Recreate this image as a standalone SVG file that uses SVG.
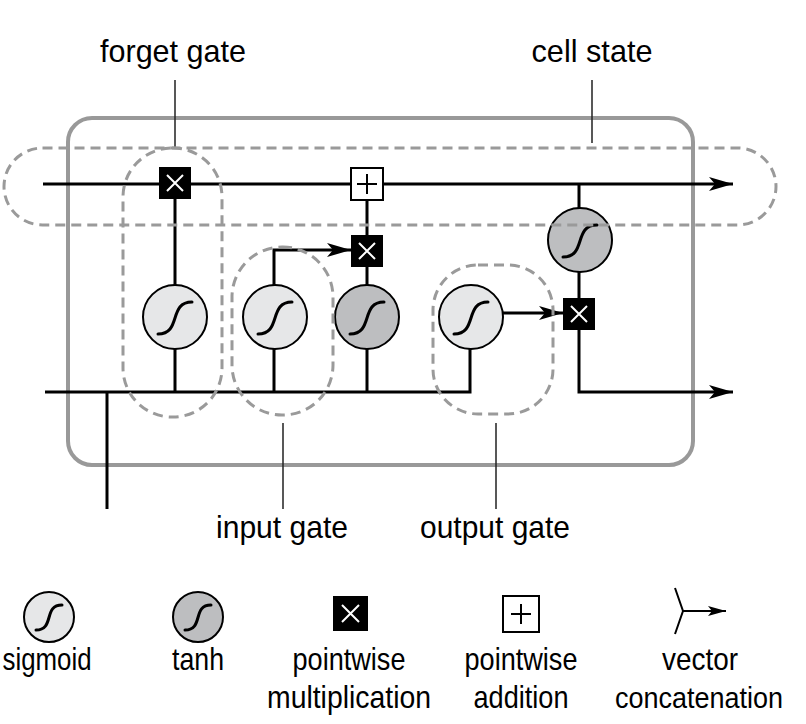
<svg xmlns="http://www.w3.org/2000/svg" width="806" height="724" viewBox="0 0 806 724">
<defs>
<style>
.ln{fill:none;stroke:#000;stroke-width:3}
.lead{fill:none;stroke:#222;stroke-width:1.5}
.dash{fill:none;stroke:#9a9a9a;stroke-width:3;stroke-dasharray:10 6}
.frame{fill:none;stroke:#999;stroke-width:4}
.sig{fill:#e6e7e8;stroke:#000;stroke-width:2}
.tanh{fill:#bdbec0;stroke:#000;stroke-width:2}
.curve{fill:none;stroke:#000;stroke-width:3;stroke-linecap:round}
.mul{fill:#000}
.mulx{stroke:#fff;stroke-width:2}
.add{fill:#fff;stroke:#000;stroke-width:2}
.addp{stroke:#000;stroke-width:2}
.t{font-family:"Liberation Sans",Arial,sans-serif;font-size:32px;fill:#000;text-anchor:middle}
</style>
<marker id="ah" viewBox="0 0 24 14" refX="24" refY="7" markerWidth="24" markerHeight="14" markerUnits="userSpaceOnUse" orient="auto">
<path d="M0,0 L24,7 L0,14 L6,7 z" fill="#000"/>
</marker>
<marker id="ahs" viewBox="0 0 18 10" refX="18" refY="5" markerWidth="18" markerHeight="10" markerUnits="userSpaceOnUse" orient="auto">
<path d="M0,0 L18,5 L0,10 L4,5 z" fill="#000"/>
</marker>
<g id="sigsym"><circle r="32" class="sig"/><path class="curve" d="M-17,17 C7,17 -7,-15 17,-15"/></g>
<g id="tanhsym"><circle r="32" class="tanh"/><path class="curve" d="M-17,17 C7,17 -7,-15 17,-15"/></g>
<g id="mulsym"><rect x="-16" y="-16" width="32" height="32" class="mul"/><path class="mulx" d="M-8,-8 L8,8 M8,-8 L-8,8"/></g>
<g id="addsym"><rect x="-16" y="-16" width="32" height="32" class="add"/><path class="addp" d="M-10,0 L10,0 M0,-10 L0,10"/></g>
</defs>
<rect width="806" height="724" fill="#fff"/>

<rect id="cell-frame" x="68" y="118" width="625" height="347" rx="24" class="frame"/>

<g id="connectors">
<path class="ln" d="M43,184 L733,184" marker-end="url(#ah)"/>
<path class="ln" d="M45,392 L470,392 L470,349"/>
<path class="ln" d="M107,392 L107,509"/>
<path class="ln" d="M175,199 L175,285 M175,349 L175,392"/>
<path class="ln" d="M274,392 L274,349 M274,285 L274,250 L351,250" marker-end="url(#ah)"/>
<path class="ln" d="M367,392 L367,349 M367,285 L367,267 M367,235 L367,200"/>
<path class="ln" d="M503,313 L563,313" marker-end="url(#ah)"/>
<path class="ln" d="M579,184 L579,209 M579,272 L579,298"/>
<path class="ln" d="M579,330 L579,392 L733,392" marker-end="url(#ah)"/>
<path class="lead" d="M175,80 L175,147 M592,80 L592,143 M283,423 L283,509 M496,423 L496,509"/>
</g>

<g id="forget-mul"><use href="#mulsym" x="175" y="183"/></g>
<g id="cell-add"><use href="#addsym" x="367" y="184"/></g>
<g id="input-mul"><use href="#mulsym" x="367" y="251"/></g>
<g id="output-mul"><use href="#mulsym" x="579" y="314"/></g>
<g id="forget-sigmoid"><use href="#sigsym" x="175" y="317"/></g>
<g id="input-sigmoid"><use href="#sigsym" x="275" y="317"/></g>
<g id="input-tanh"><use href="#tanhsym" x="367" y="317"/></g>
<g id="output-sigmoid"><use href="#sigsym" x="471" y="317"/></g>
<g id="cell-tanh"><use href="#tanhsym" x="580" y="240"/></g>

<g id="regions">
<rect x="4" y="148" width="772" height="77" rx="38.5" class="dash"/>
<rect x="123" y="148" width="99" height="269" rx="49" class="dash"/>
<rect x="232" y="247" width="101" height="168" rx="50" class="dash"/>
<rect x="433" y="265" width="120" height="149" rx="45" class="dash"/>
</g>

<g id="labels">
<text class="t" x="173" y="62" textLength="146" lengthAdjust="spacingAndGlyphs">forget gate</text>
<text class="t" x="592" y="62" textLength="121" lengthAdjust="spacingAndGlyphs">cell state</text>
<text class="t" x="282" y="538" textLength="132" lengthAdjust="spacingAndGlyphs">input gate</text>
<text class="t" x="495" y="538" textLength="150" lengthAdjust="spacingAndGlyphs">output gate</text>
</g>

<g id="legend">
<g id="legend-sigmoid"><circle cx="49" cy="617" r="25" class="sig"/><path class="curve" d="M36,630 C55,630 43,605 62,605"/>
<text class="t" x="47" y="670" textLength="89" lengthAdjust="spacingAndGlyphs">sigmoid</text></g>
<g id="legend-tanh"><circle cx="198" cy="617" r="25" class="tanh"/><path class="curve" d="M185,630 C204,630 192,605 211,605"/>
<text class="t" x="198" y="670" textLength="52" lengthAdjust="spacingAndGlyphs">tanh</text></g>
<g id="legend-mul"><rect x="333" y="596" width="35" height="35" class="mul"/><path class="mulx" d="M342,605 L359,622 M359,605 L342,622"/>
<text class="t" x="349" y="670" textLength="113" lengthAdjust="spacingAndGlyphs">pointwise</text>
<text class="t" x="349" y="708" textLength="164" lengthAdjust="spacingAndGlyphs">multiplication</text></g>
<g id="legend-add"><rect x="503" y="596" width="36" height="36" class="add"/><path class="addp" d="M511,614 L531,614 M521,604 L521,624"/>
<text class="t" x="521" y="670" textLength="113" lengthAdjust="spacingAndGlyphs">pointwise</text>
<text class="t" x="521" y="708" textLength="95" lengthAdjust="spacingAndGlyphs">addition</text></g>
<g id="legend-concat"><path fill="none" stroke="#000" stroke-width="2" d="M675,588 L683,611 L675,634"/><path fill="none" stroke="#000" stroke-width="2" d="M683,611 L726,611" marker-end="url(#ahs)"/>
<text class="t" x="700" y="670" textLength="76" lengthAdjust="spacingAndGlyphs">vector</text>
<text class="t" x="699" y="708" style="font-size:29px" textLength="168" lengthAdjust="spacingAndGlyphs">concatenation</text></g>
</g>
</svg>
